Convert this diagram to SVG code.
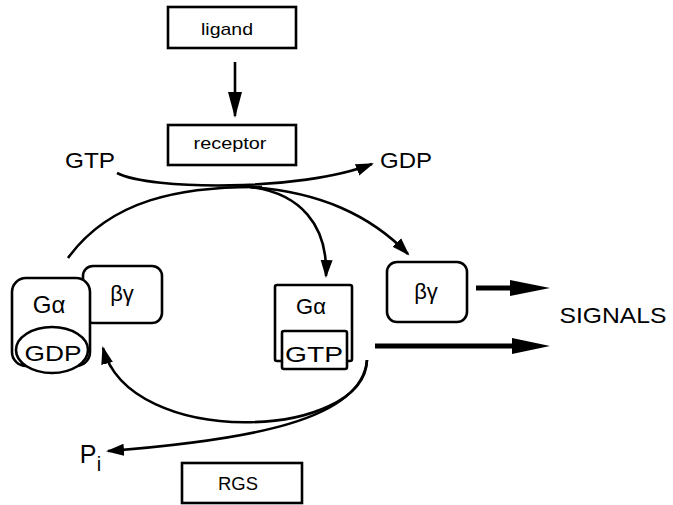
<svg xmlns="http://www.w3.org/2000/svg" width="673" height="505" viewBox="0 0 673 505">
  <defs>
    <style>
      .box { fill: #fff; stroke: #000; stroke-width: 2.6; }
      .wire { fill: none; stroke: #000; stroke-width: 2.6; }
      .thick { fill: none; stroke: #000; stroke-width: 5; }
      .lbl { font-family: "Liberation Sans", Arial, Helvetica, sans-serif; fill: #000; text-anchor: middle; }
    </style>
    <marker id="head" markerUnits="userSpaceOnUse" markerWidth="20" markerHeight="14" refX="16" refY="7" orient="auto">
      <path d="M0,1 L18,7 L0,13 z" fill="#000"/>
    </marker>
    <marker id="headLong" markerUnits="userSpaceOnUse" markerWidth="28" markerHeight="16" refX="24" refY="8" orient="auto">
      <path d="M0,1 L26,8 L0,15 z" fill="#000"/>
    </marker>
  </defs>

  <!-- connectors -->
  <g id="connectors">
    <line class="wire" x1="235" y1="62" x2="235" y2="116" marker-end="url(#headLong)"/>
    <!-- GTP in, GDP out at the receptor -->
    <path class="wire" d="M117,173 C150,190 300,192 372,164" marker-end="url(#head)"/>
    <!-- inactive heterotrimer feeding into the receptor -->
    <path class="wire" d="M68,258 C110,200 180,186 262,187"/>
    <!-- split into Gα-GTP and βγ -->
    <path class="wire" d="M250,187 C300,193 328,225 326,276" marker-end="url(#head)"/>
    <path class="wire" d="M250,187 C320,192 370,215 408,254" marker-end="url(#head)"/>
    <!-- GTP hydrolysis back to Gα-GDP, releasing Pi -->
    <path class="wire" d="M367,360 C365,440 130,450 103,348" marker-end="url(#head)"/>
    <path class="wire" d="M367,360 C362,420 250,440 108,451" marker-end="url(#head)"/>
    <!-- signalling outputs -->
    <line class="thick" x1="476" y1="288" x2="512" y2="288"/>
    <polygon points="510,280 550,288 510,296" fill="#000"/>
    <line class="thick" x1="375" y1="346" x2="514" y2="346"/>
    <polygon points="512,338 550,346 512,354" fill="#000"/>
  </g>

  <g id="ligand">
    <rect class="box" x="168" y="7" width="128" height="41"/>
    <text class="lbl" x="227" y="35" font-size="17" textLength="52" lengthAdjust="spacingAndGlyphs">ligand</text>
  </g>

  <g id="receptor">
    <rect class="box" x="168" y="125" width="128" height="40"/>
    <text class="lbl" x="230" y="149" font-size="17" textLength="73" lengthAdjust="spacingAndGlyphs">receptor</text>
  </g>

  <g id="gtp-in">
    <text class="lbl" x="90" y="168" font-size="22" textLength="50" lengthAdjust="spacingAndGlyphs">GTP</text>
  </g>

  <g id="gdp-out">
    <text class="lbl" x="406" y="168" font-size="22" textLength="52" lengthAdjust="spacingAndGlyphs">GDP</text>
  </g>

  <!-- inactive trimer: βγ sits behind Gα-GDP -->
  <g id="betagamma-bound">
    <rect class="box" x="83" y="266" width="79" height="57" rx="10"/>
    <text class="lbl" x="122" y="301" font-size="22">βγ</text>
  </g>

  <g id="galpha-gdp">
    <rect class="box" x="12" y="278" width="78" height="88" rx="14"/>
    <text class="lbl" x="49" y="313" font-size="24">Gα</text>
    <ellipse class="box" cx="52" cy="350" rx="36" ry="23"/>
    <text class="lbl" x="53" y="361" font-size="22" textLength="57" lengthAdjust="spacingAndGlyphs">GDP</text>
  </g>

  <g id="galpha-gtp">
    <rect class="box" x="275" y="285" width="77" height="76" rx="2"/>
    <text class="lbl" x="311" y="314" font-size="22">Gα</text>
    <rect class="box" x="282" y="331" width="65" height="38" rx="2"/>
    <text class="lbl" x="314" y="362" font-size="22" textLength="58" lengthAdjust="spacingAndGlyphs">GTP</text>
  </g>

  <g id="betagamma-free">
    <rect class="box" x="387" y="262" width="80" height="60" rx="10"/>
    <text class="lbl" x="426" y="299" font-size="22">βγ</text>
  </g>

  <g id="signals">
    <text class="lbl" x="613" y="323" font-size="22" textLength="107" lengthAdjust="spacingAndGlyphs">SIGNALS</text>
  </g>

  <g id="pi">
    <text class="lbl" x="88" y="463" font-size="25">P</text>
    <text class="lbl" x="99" y="471" font-size="20">i</text>
  </g>

  <g id="rgs">
    <rect class="box" x="182" y="463" width="120" height="40"/>
    <text class="lbl" x="238" y="490" font-size="18" textLength="40" lengthAdjust="spacingAndGlyphs">RGS</text>
  </g>
</svg>
